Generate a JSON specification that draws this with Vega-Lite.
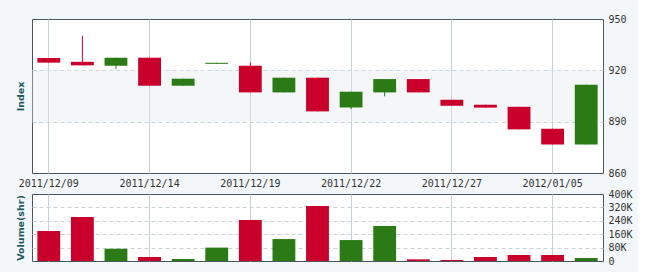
{
  "$schema": "https://vega.github.io/schema/vega-lite/v6.json",
  "background": "#f4f7f9",
  "padding": {"left": 14, "top": 13, "right": 5, "bottom": 5},
  "spacing": 21,
  "bounds": "flush",
  "config": {
    "view": {"stroke": "#4b565c", "fill": "white"},
    "axis": {
      "labelFont": "DejaVu Sans Mono",
      "labelFontSize": 10,
      "labelColor": "#333333",
      "titleFont": "DejaVu Sans",
      "titleFontSize": 9.5,
      "titleFontWeight": "bold",
      "titleColor": "#1f5a5c",
      "domain": false,
      "ticks": false
    }
  },
  "datasets": {
    "ohlc": [
      {"date": "2011/12/09", "open": 927.2, "high": 927.2, "low": 924.5, "close": 924.5, "vol": 179000, "dir": "down"},
      {"date": "2011/12/12", "open": 925.0, "high": 940.2, "low": 922.9, "close": 922.9, "vol": 263000, "dir": "down"},
      {"date": "2011/12/13", "open": 922.7, "high": 927.4, "low": 920.8, "close": 927.4, "vol": 73000, "dir": "up"},
      {"date": "2011/12/14", "open": 927.4, "high": 927.4, "low": 911.0, "close": 911.0, "vol": 24000, "dir": "down"},
      {"date": "2011/12/15", "open": 911.0, "high": 915.1, "low": 911.0, "close": 915.1, "vol": 12000, "dir": "up"},
      {"date": "2011/12/16", "open": 923.8, "high": 924.4, "low": 923.8, "close": 924.4, "vol": 80000, "dir": "up"},
      {"date": "2011/12/19", "open": 922.7, "high": 924.6, "low": 907.1, "close": 907.1, "vol": 245000, "dir": "down"},
      {"date": "2011/12/20", "open": 907.1, "high": 915.7, "low": 907.1, "close": 915.7, "vol": 131000, "dir": "up"},
      {"date": "2011/12/21", "open": 915.7, "high": 915.7, "low": 896.0, "close": 896.0, "vol": 328000, "dir": "down"},
      {"date": "2011/12/22", "open": 898.3, "high": 907.5, "low": 897.4, "close": 907.5, "vol": 125000, "dir": "up"},
      {"date": "2011/12/23", "open": 907.1, "high": 914.9, "low": 904.8, "close": 914.9, "vol": 209000, "dir": "up"},
      {"date": "2011/12/26", "open": 914.9, "high": 914.9, "low": 907.1, "close": 907.1, "vol": 10000, "dir": "down"},
      {"date": "2011/12/27", "open": 902.8, "high": 902.8, "low": 899.3, "close": 899.3, "vol": 6000, "dir": "down"},
      {"date": "2011/12/28", "open": 899.9, "high": 899.9, "low": 898.2, "close": 898.2, "vol": 24000, "dir": "down"},
      {"date": "2011/12/29", "open": 898.7, "high": 898.7, "low": 885.5, "close": 885.5, "vol": 36000, "dir": "down"},
      {"date": "2012/01/05", "open": 885.9, "high": 885.9, "low": 876.7, "close": 876.7, "vol": 36000, "dir": "down"},
      {"date": "2012/01/06", "open": 876.7, "high": 911.6, "low": 876.7, "close": 911.6, "vol": 18000, "dir": "up"}
    ],
    "bandsTop": [{"lo": 890, "hi": 920}],
    "bandsVol": [{"lo": 80000, "hi": 160000}, {"lo": 240000, "hi": 320000}]
  },
  "vconcat": [
    {
      "width": 571,
      "height": 154,
      "layer": [
        {
          "data": {"name": "bandsTop"},
          "mark": {"type": "rect", "fill": "#dfe6eb", "fillOpacity": 0.35},
          "encoding": {
            "y": {"field": "lo", "type": "quantitative", "scale": {"domain": [860, 950], "nice": false, "zero": false},
              "axis": {"orient": "left", "title": "Index", "labels": false, "grid": true, "values": [890, 920], "gridDash": [4, 3], "gridColor": "#c9d3d9", "titlePadding": 7}},
            "y2": {"field": "hi"}
          }
        },
        {
          "data": {"name": "ohlc"},
          "mark": {"type": "rule", "strokeWidth": 1},
          "encoding": {
            "x": {"field": "date", "type": "ordinal", "sort": null, "scale": {"type": "band", "paddingInner": 0.32, "paddingOuter": 0.16},
              "axis": {"title": null, "values": ["2011/12/09", "2011/12/14", "2011/12/19", "2011/12/22", "2011/12/27", "2012/01/05"], "grid": true, "gridColor": "#c3d2d9", "labelPadding": 5, "labelAngle": 0, "bandPosition": 0.5}},
            "y": {"field": "low", "type": "quantitative", "axis": {"orient": "right", "title": null, "values": [860, 890, 920, 950], "grid": false, "labelPadding": 5}},
            "y2": {"field": "high"},
            "color": {"field": "dir", "type": "nominal", "scale": {"domain": ["down", "up"], "range": ["#c9002b", "#2b7a15"]}, "legend": null}
          }
        },
        {
          "data": {"name": "ohlc"},
          "mark": {"type": "bar"},
          "encoding": {
            "x": {"field": "date", "type": "ordinal", "sort": null, "scale": {"type": "band", "paddingInner": 0.32, "paddingOuter": 0.16},
              "axis": {"title": null, "values": ["2011/12/09", "2011/12/14", "2011/12/19", "2011/12/22", "2011/12/27", "2012/01/05"], "grid": true, "gridColor": "#c3d2d9", "labelPadding": 5, "labelAngle": 0, "bandPosition": 0.5}},
            "y": {"field": "open", "type": "quantitative", "axis": null},
            "y2": {"field": "close"},
            "color": {"field": "dir", "type": "nominal", "scale": {"domain": ["down", "up"], "range": ["#c9002b", "#2b7a15"]}, "legend": null}
          }
        }
      ],
      "resolve": {"axis": {"y": "independent"}}
    },
    {
      "width": 571,
      "height": 67,
      "layer": [
        {
          "data": {"name": "bandsVol"},
          "mark": {"type": "rect", "fill": "#dfe6eb", "fillOpacity": 0},
          "encoding": {
            "y": {"field": "lo", "type": "quantitative", "scale": {"domain": [0, 400000], "nice": false},
              "axis": {"orient": "right", "title": null, "values": [0, 80000, 160000, 240000, 320000, 400000], "grid": false, "labelPadding": 5, "labelExpr": "datum.value == 0 ? '0' : (datum.value / 1000) + 'K'"}},
            "y2": {"field": "hi"}
          }
        },
        {
          "data": {"name": "ohlc"},
          "mark": {"type": "bar"},
          "encoding": {
            "x": {"field": "date", "type": "ordinal", "sort": null, "scale": {"type": "band", "paddingInner": 0.32, "paddingOuter": 0.16},
              "axis": {"title": null, "labels": false, "values": ["2011/12/09", "2011/12/14", "2011/12/19", "2011/12/22", "2011/12/27", "2012/01/05"], "grid": true, "gridColor": "#c3d2d9", "bandPosition": 0.5}},
            "y": {"field": "vol", "type": "quantitative",
              "axis": {"orient": "left", "title": "Volume(shr)", "labels": false, "grid": true, "values": [80000, 160000, 240000, 320000], "gridDash": [4, 3], "gridColor": "#c9d3d9", "titlePadding": 7}},
            "color": {"field": "dir", "type": "nominal", "scale": {"domain": ["down", "up"], "range": ["#c9002b", "#2b7a15"]}, "legend": null}
          }
        }
      ],
      "resolve": {"axis": {"y": "independent"}}
    }
  ]
}
